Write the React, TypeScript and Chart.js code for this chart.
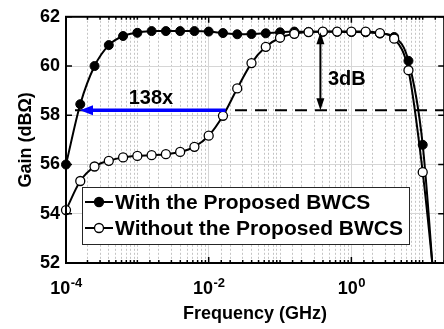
import React, { useEffect, useRef } from 'react';
import { Chart, registerables } from 'chart.js';

Chart.register(...registerables);

const FONT = "'Liberation Sans', Arial, Helvetica, sans-serif";

// Frequency samples (GHz)
const frequencies = [
  0.0001, 0.0001585, 0.0002512, 0.0003981, 0.000631,
  0.001, 0.001585, 0.002512, 0.003981, 0.00631,
  0.01, 0.01585, 0.02512, 0.03981, 0.0631,
  0.1, 0.1585, 0.2512, 0.3981, 0.631,
  1, 1.585, 2.512, 3.981, 6.31,
  10, 15.85,
];

// Gain (dBΩ) with the proposed BWCS
const gainWith = [
  56.0, 58.45, 60.0, 60.85, 61.22,
  61.35, 61.42, 61.42, 61.42, 61.42,
  61.4, 61.34, 61.29, 61.3, 61.33,
  61.37, 61.4, 61.39, 61.39, 61.39,
  61.38, 61.37, 61.32, 61.18, 60.21,
  56.8, 49.4,
];

// Gain (dBΩ) without the proposed BWCS
const gainWithout = [
  54.15, 55.33, 55.92, 56.15, 56.29,
  56.35, 56.38, 56.42, 56.51, 56.72,
  57.17, 57.98, 59.09, 60.12, 60.78,
  61.15, 61.31, 61.38, 61.4, 61.4,
  61.4, 61.4, 61.34, 61.11, 59.83,
  55.69, 50.1,
];

const seriesLabels = ['With the Proposed BWCS', 'Without the Proposed BWCS'];
const xLabelExponents = ['-4', '-2', '0'];
const xLabelValues = [1e-4, 1e-2, 1];
const yMin = 52;
const yMax = 62;
const yStep = 2;
const xMin = 1e-4;
const xMax = 20;

// annotations
const threshold3dB = 58.2;
const peakWithout = 61.37;
const arrow3dBFreq = 0.368;
const bwArrowFrom = 0.0173;
const bwArrowTo = 0.000157;
const label138 = { text: '138x', f: 0.00155, g: 58.7 };
const label3dB = { text: '3dB', f: 0.865, g: 59.46 };

const isLabeled = (v: number) => {
  const l = Math.log10(v);
  return Math.abs(l - Math.round(l)) < 1e-6 && [-4, -2, 0].includes(Math.round(l));
};

function arrowHead(ctx: CanvasRenderingContext2D, tipX: number, tipY: number, dx: number, dy: number, len: number, half: number) {
  const bx = tipX - dx * len;
  const by = tipY - dy * len;
  ctx.beginPath();
  ctx.moveTo(tipX, tipY);
  ctx.lineTo(bx - dy * half, by + dx * half);
  ctx.lineTo(bx + dy * half, by - dx * half);
  ctx.closePath();
  ctx.fill();
}

const decor = {
  id: 'decor',
  afterDatasetsDraw(chart: any) {
    const { ctx, chartArea: a, scales } = chart;
    const x = scales.x;
    const y = scales.y;
    ctx.save();

    // 3 dB dashed threshold
    const yT = y.getPixelForValue(threshold3dB);
    ctx.beginPath();
    ctx.setLineDash([12, 8]);
    ctx.lineDashOffset = 11;
    ctx.strokeStyle = '#000';
    ctx.lineWidth = 2;
    ctx.moveTo(a.left, yT);
    ctx.lineTo(a.right, yT);
    ctx.stroke();
    ctx.setLineDash([]);

    // blue bandwidth arrow
    const xb0 = x.getPixelForValue(bwArrowFrom);
    const xb1 = x.getPixelForValue(bwArrowTo);
    ctx.strokeStyle = '#0000ff';
    ctx.fillStyle = '#0000ff';
    ctx.lineWidth = 3.5;
    ctx.beginPath();
    ctx.moveTo(xb0, yT);
    ctx.lineTo(xb1 + 10, yT);
    ctx.stroke();
    arrowHead(ctx, xb1, yT, -1, 0, 13, 5);

    // 3dB double arrow
    const xa = x.getPixelForValue(arrow3dBFreq);
    const yTop = y.getPixelForValue(peakWithout);
    ctx.strokeStyle = '#000';
    ctx.fillStyle = '#000';
    ctx.lineWidth = 2;
    ctx.beginPath();
    ctx.moveTo(xa, yTop + 8);
    ctx.lineTo(xa, yT - 8);
    ctx.stroke();
    arrowHead(ctx, xa, yTop, 0, -1, 12, 4);
    arrowHead(ctx, xa, yT, 0, 1, 12, 4);

    // texts
    ctx.fillStyle = '#000';
    ctx.textAlign = 'center';
    ctx.textBaseline = 'middle';
    ctx.font = `bold 20px ${FONT}`;
    ctx.fillText(label138.text, x.getPixelForValue(label138.f), y.getPixelForValue(label138.g));
    ctx.fillText(label3dB.text, x.getPixelForValue(label3dB.f), y.getPixelForValue(label3dB.g));

    // inward ticks
    ctx.strokeStyle = '#000';
    ctx.lineWidth = 1.5;
    ctx.beginPath();
    for (const t of y.ticks) {
      const py = y.getPixelForValue(t.value);
      ctx.moveTo(a.left, py);
      ctx.lineTo(a.left + 6, py);
      ctx.moveTo(a.right, py);
      ctx.lineTo(a.right - 6, py);
    }
    for (const t of x.ticks) {
      const px = x.getPixelForValue(t.value);
      const len = isLabeled(t.value) ? 6 : 3;
      ctx.moveTo(px, a.bottom);
      ctx.lineTo(px, a.bottom - len);
      ctx.moveTo(px, a.top);
      ctx.lineTo(px, a.top + len);
    }
    ctx.stroke();

    // frame
    ctx.lineWidth = 2;
    ctx.strokeRect(a.left, a.top, a.right - a.left, a.bottom - a.top);
    ctx.restore();
  },
  afterDraw(chart: any) {
    const { ctx, chartArea: a, scales } = chart;
    const x = scales.x;
    ctx.save();
    ctx.fillStyle = '#000';
    // x tick labels 10^n
    xLabelValues.forEach((v, i) => {
      const px = x.getPixelForValue(v);
      ctx.font = `bold 18px ${FONT}`;
      const wBase = ctx.measureText('10').width;
      ctx.font = `bold 13px ${FONT}`;
      const wExp = ctx.measureText(xLabelExponents[i]).width;
      const left = px - (wBase + wExp) / 2;
      ctx.textAlign = 'left';
      ctx.textBaseline = 'alphabetic';
      ctx.font = `bold 18px ${FONT}`;
      ctx.fillText('10', left, a.bottom + 31);
      ctx.font = `bold 13px ${FONT}`;
      ctx.fillText(xLabelExponents[i], left + wBase + 0.5, a.bottom + 24);
    });

    // legend
    const lx = a.left + 16;
    const ly = a.bottom - 76;
    const lw = 327;
    const lh = 57;
    ctx.fillStyle = '#fff';
    ctx.fillRect(lx, ly, lw, lh);
    ctx.strokeStyle = '#262626';
    ctx.lineWidth = 1;
    ctx.strokeRect(lx + 0.5, ly + 0.5, lw, lh);
    seriesLabels.forEach((lab, i) => {
      const cy = ly + 15 + i * 26;
      ctx.strokeStyle = '#000';
      ctx.lineWidth = 2;
      ctx.beginPath();
      ctx.moveTo(lx + 3, cy);
      ctx.lineTo(lx + 31, cy);
      ctx.stroke();
      ctx.beginPath();
      ctx.arc(lx + 17, cy, 4.5, 0, Math.PI * 2);
      ctx.fillStyle = i === 0 ? '#000' : '#fff';
      ctx.fill();
      ctx.lineWidth = 1.3;
      ctx.stroke();
      ctx.fillStyle = '#000';
      ctx.font = `bold 21px ${FONT}`;
      ctx.textAlign = 'left';
      ctx.textBaseline = 'middle';
      ctx.fillText(lab, lx + 33, cy + 1);
    });
    ctx.restore();
  },
};

export default function App() {
  const ref = useRef<HTMLCanvasElement>(null);
  useEffect(() => {
    const canvas = ref.current;
    if (!canvas) return;
    const chart = new Chart(canvas, {
      type: 'line',
      data: {
        datasets: [
          {
            label: seriesLabels[1],
            data: frequencies.map((f, i) => ({ x: f, y: gainWithout[i] })),
            borderColor: '#000',
            borderWidth: 2,
            pointRadius: 4.5,
            pointBackgroundColor: '#fff',
            pointBorderColor: '#000',
            pointBorderWidth: 1.3,
            cubicInterpolationMode: 'monotone',
            order: 0,
            clip: { left: 8, top: 8, right: 8, bottom: 0 },
          },
          {
            label: seriesLabels[0],
            data: frequencies.map((f, i) => ({ x: f, y: gainWith[i] })),
            borderColor: '#000',
            borderWidth: 2,
            pointRadius: 4.5,
            pointBackgroundColor: '#000',
            pointBorderColor: '#000',
            pointBorderWidth: 1,
            cubicInterpolationMode: 'monotone',
            order: 1,
            clip: { left: 8, top: 8, right: 8, bottom: 0 },
          },
        ],
      },
      options: {
        responsive: false,
        devicePixelRatio: 1,
        animation: false,
        events: [],
        layout: { padding: { left: 0, top: 11, right: 4.5, bottom: 0 } },
        plugins: { legend: { display: false }, tooltip: { enabled: false } },
        scales: {
          x: {
            type: 'logarithmic',
            min: xMin,
            max: xMax,
            afterFit: (s: any) => { s.height = 66; },
            ticks: { display: false, autoSkip: false },
            grid: {
              drawTicks: false,
              color: (c: any) => (isLabeled(c.tick.value) ? '#d6d6d6' : '#c4c4c4'),
              lineWidth: 1,
            },
            border: {
              display: false,
              dash: (c: any) => (c.tick && isLabeled(c.tick.value) ? [] : [2, 2]),
            },
            title: {
              display: true,
              text: 'Frequency (GHz)',
              color: '#000',
              font: { size: 18, weight: 'bold', family: FONT },
              padding: { top: 0, bottom: 4 },
            },
          },
          y: {
            min: yMin,
            max: yMax,
            afterFit: (s: any) => { s.width = 66; },
            ticks: {
              stepSize: yStep,
              color: '#000',
              padding: 6,
              font: { size: 18, weight: 'bold', family: FONT },
            },
            grid: { drawTicks: false, color: '#d6d6d6', lineWidth: 1 },
            border: { display: false },
            title: {
              display: true,
              text: 'Gain (dBΩ)',
              color: '#000',
              font: { size: 18, weight: 'bold', family: FONT },
              padding: { top: 15, bottom: 0 },
            },
          },
        },
      },
      plugins: [decor],
    } as any);
    return () => chart.destroy();
  }, []);

  return (
    <div style={{ position: 'fixed', left: 0, top: 0, width: 444, height: 329, overflow: 'hidden', background: '#fff' }}>
      <div style={{ width: 450, height: 329 }}>
        <canvas ref={ref} width={450} height={329} style={{ width: 450, height: 329, display: 'block' }} />
      </div>
    </div>
  );
}
